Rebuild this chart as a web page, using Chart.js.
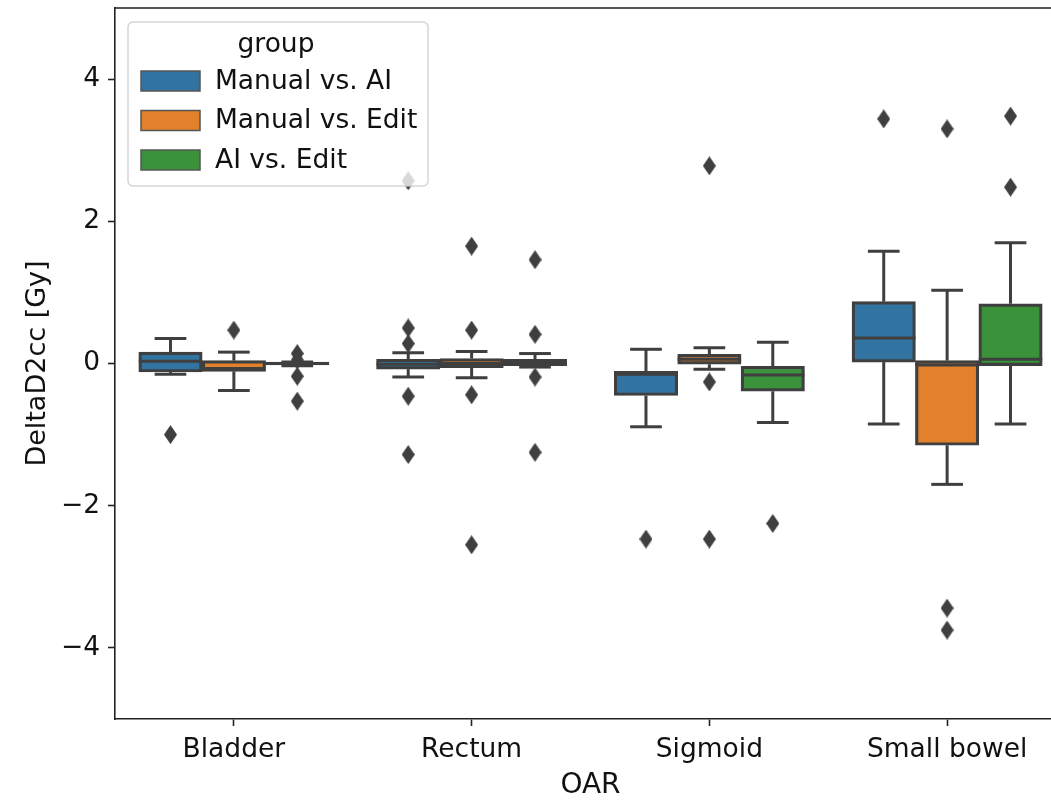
<!DOCTYPE html>
<html>
<head>
<meta charset="utf-8">
<script src="https://cdn.jsdelivr.net/npm/chart.js@4.4.1/dist/chart.umd.min.js"></script>
<style>
  html, body { margin: 0; padding: 0; background: #fff; overflow: hidden; }
  #wrap { width: 1071px; height: 801px; }
</style>
</head>
<body>
<div id="wrap"><canvas id="oar-chart" width="1071" height="801"></canvas></div>
<script>
const categories = ['Bladder', 'Rectum', 'Sigmoid', 'Small bowel'];
const groups = ['Manual vs. AI', 'Manual vs. Edit', 'AI vs. Edit'];
const yTicks = [-4, -2, 0, 2, 4];

// Manual vs. AI
const manualAiQ1 = [-0.12, -0.08, -0.45, 0.02];
const manualAiMedian = [0.03, -0.01, -0.15, 0.36];
const manualAiQ3 = [0.16, 0.06, -0.11, 0.87];
const manualAiLow = [-0.15, -0.19, -0.89, -0.85];
const manualAiHigh = [0.35, 0.15, 0.20, 1.58];
const manualAiOutliers = [[-1.0], [2.57, 0.50, 0.28, -0.46, -1.28], [-2.47], [3.44]];

// Manual vs. Edit
const manualEditQ1 = [-0.11, -0.06, -0.01, -1.15];
const manualEditMedian = [-0.07, 0.0, 0.06, -0.02];
const manualEditQ3 = [0.04, 0.07, 0.13, 0.04];
const manualEditLow = [-0.38, -0.20, -0.08, -1.70];
const manualEditHigh = [0.16, 0.17, 0.22, 1.03];
const manualEditOutliers = [[0.47], [1.65, 0.47, -0.44, -2.55], [2.78, -0.26, -2.47], [3.30, -3.44, -3.75]];

// AI vs. Edit
const aiEditQ1 = [-0.02, -0.03, -0.39, -0.03];
const aiEditMedian = [0.0, 0.02, -0.16, 0.06];
const aiEditQ3 = [0.02, 0.06, -0.04, 0.84];
const aiEditLow = [-0.03, -0.05, -0.83, -0.85];
const aiEditHigh = [0.02, 0.14, 0.30, 1.70];
const aiEditOutliers = [[0.14, 0.05, -0.18, -0.53], [1.46, 0.41, -0.19, -1.25], [-2.25], [3.48, 2.48]];

const boxColors = ['#3274a1', '#e1812c', '#3a923a'];
const lineGray = '#3f3f3f';
const textColor = '#111';
const fontFamily = "'DejaVu Sans', sans-serif";

const boxStats = [
  { q1: manualAiQ1, med: manualAiMedian, q3: manualAiQ3, low: manualAiLow, high: manualAiHigh, out: manualAiOutliers },
  { q1: manualEditQ1, med: manualEditMedian, q3: manualEditQ3, low: manualEditLow, high: manualEditHigh, out: manualEditOutliers },
  { q1: aiEditQ1, med: aiEditMedian, q3: aiEditQ3, low: aiEditLow, high: aiEditHigh, out: aiEditOutliers }
];

// thin diamond marker like matplotlib 'd'
function makeDiamond(w, h, color) {
  const c = document.createElement('canvas');
  c.width = w; c.height = h;
  const g = c.getContext('2d');
  g.fillStyle = color;
  g.beginPath();
  g.moveTo(w / 2, 0); g.lineTo(w, h / 2); g.lineTo(w / 2, h); g.lineTo(0, h / 2);
  g.closePath();
  g.fill();
  return c;
}
const diamond = makeDiamond(13, 19, lineGray);

// each hue gets 0.8 / 3 of a category, like seaborn's dodge
const hueWidth = 0.8 / groups.length;
const hueX = (i, g) => i + (g - 1) * hueWidth;

// boxes sit on the hidden linear axis; not grouped, so each one is
// exactly as wide as the gap between neighbouring hue positions
const barSets = boxStats.map((st, g) => ({
  type: 'bar',
  label: groups[g],
  data: st.q1.map((q, i) => ({ x: hueX(i, g), y: [q, st.q3[i]] })),
  backgroundColor: boxColors[g],
  borderColor: lineGray,
  borderWidth: 3.2,
  borderSkipped: false,
  grouped: false,
  categoryPercentage: 1.0,
  barPercentage: 1.0,
  xAxisID: 'xo',
  yAxisID: 'y'
}));

const outlierSets = boxStats.map((st, g) => ({
  type: 'scatter',
  label: groups[g] + ' outliers',
  data: st.out.flatMap((vals, i) => vals.map(v => ({ x: hueX(i, g), y: v }))),
  pointStyle: diamond,
  xAxisID: 'xo',
  yAxisID: 'y'
}));

const boxWhiskers = {
  id: 'boxWhiskers',
  afterDatasetsDraw(chart) {
    const ctx = chart.ctx;
    const y = chart.scales.y;
    ctx.save();
    ctx.strokeStyle = lineGray;
    ctx.lineWidth = 3;
    const seg = (x1, y1, x2, y2) => { ctx.beginPath(); ctx.moveTo(x1, y1); ctx.lineTo(x2, y2); ctx.stroke(); };
    boxStats.forEach((st, d) => {
      chart.getDatasetMeta(d).data.forEach((bar, i) => {
        const half = bar.width / 2, cap = bar.width / 4;
        const pq1 = y.getPixelForValue(st.q1[i]);
        const pq3 = y.getPixelForValue(st.q3[i]);
        const plo = y.getPixelForValue(st.low[i]);
        const phi = y.getPixelForValue(st.high[i]);
        const pmed = y.getPixelForValue(st.med[i]);
        seg(bar.x, pq3, bar.x, phi);
        seg(bar.x, pq1, bar.x, plo);
        seg(bar.x - cap, phi, bar.x + cap, phi);
        seg(bar.x - cap, plo, bar.x + cap, plo);
        seg(bar.x - half, pmed, bar.x + half, pmed);
      });
    });
    ctx.restore();
  }
};

const frameAndLegend = {
  id: 'frameAndLegend',
  afterDraw(chart) {
    const ctx = chart.ctx;
    const a = chart.chartArea;
    ctx.save();
    ctx.strokeStyle = '#222';
    ctx.lineWidth = 1.6;
    ctx.beginPath();
    ctx.moveTo(a.left, a.top); ctx.lineTo(a.right, a.top); ctx.lineTo(a.right, a.bottom);
    ctx.stroke();

    // legend box
    const lx = 128, ly = 22, lw = 300, lh = 164, r = 5;
    ctx.beginPath();
    ctx.roundRect(lx, ly, lw, lh, r);
    ctx.fillStyle = 'rgba(255,255,255,0.8)';
    ctx.fill();
    ctx.strokeStyle = 'rgba(204,204,204,0.8)';
    ctx.lineWidth = 1.5;
    ctx.stroke();

    ctx.fillStyle = textColor;
    ctx.font = '26.5px ' + fontFamily;
    ctx.textBaseline = 'middle';
    ctx.textAlign = 'center';
    ctx.fillText('group', lx + lw / 2 - 2, 45);
    ctx.textAlign = 'left';
    groups.forEach((name, g) => {
      const cy = 81 + g * 39.5;
      ctx.fillStyle = boxColors[g];
      ctx.fillRect(141, cy - 10, 59, 20);
      ctx.strokeStyle = '#555';
      ctx.lineWidth = 1.5;
      ctx.strokeRect(141, cy - 10, 59, 20);
      ctx.fillStyle = textColor;
      ctx.fillText(name, 215, cy + 1);
    });
    ctx.restore();
  }
};

const ctx = document.getElementById('oar-chart').getContext('2d');
new Chart(ctx, {
  type: 'bar',
  data: { labels: categories, datasets: [...barSets, ...outlierSets] },
  options: {
    responsive: false,
    animation: false,
    devicePixelRatio: 1,
    layout: { padding: { top: 8, right: 2, left: 0, bottom: 0 } },
    plugins: { legend: { display: false }, tooltip: { enabled: false } },
    scales: {
      x: {
        type: 'category',
        offset: true,
        grid: { display: true, drawOnChartArea: false, offset: false, tickLength: 7, tickColor: '#222', tickWidth: 1.6 },
        border: { display: true, color: '#222', width: 1.6 },
        ticks: { color: textColor, font: { family: fontFamily, size: 26.5 }, padding: 8, maxRotation: 0 },
        title: { display: true, text: 'OAR', color: textColor, font: { family: fontFamily, size: 28, lineHeight: 1.1 }, padding: { top: 0, bottom: 0 } },
        afterFit: s => { s.height = 82; s.paddingLeft = 0; s.paddingRight = 0; }
      },
      xo: { type: 'linear', display: false, offset: false, min: -0.5, max: 3.5, ticks: { stepSize: 1 } },
      y: {
        min: -5,
        max: 5,
        afterBuildTicks: s => { s.ticks = yTicks.map(v => ({ value: v })); },
        grid: { display: true, drawOnChartArea: false, tickLength: 7, tickColor: '#222', tickWidth: 1.6 },
        border: { display: true, color: '#222', width: 1.6 },
        ticks: {
          color: textColor,
          font: { family: fontFamily, size: 26.5 },
          padding: 8,
          callback: v => String(v).replace('-', '\u2212')
        },
        title: { display: true, text: 'DeltaD2cc [Gy]', color: textColor, font: { family: fontFamily, size: 27, lineHeight: 1.2 }, padding: { top: 22, bottom: 0 } },
        afterFit: s => { s.width = 115; s.paddingTop = 0; s.paddingBottom = 0; }
      }
    }
  },
  plugins: [boxWhiskers, frameAndLegend]
});
</script>
</body>
</html>
